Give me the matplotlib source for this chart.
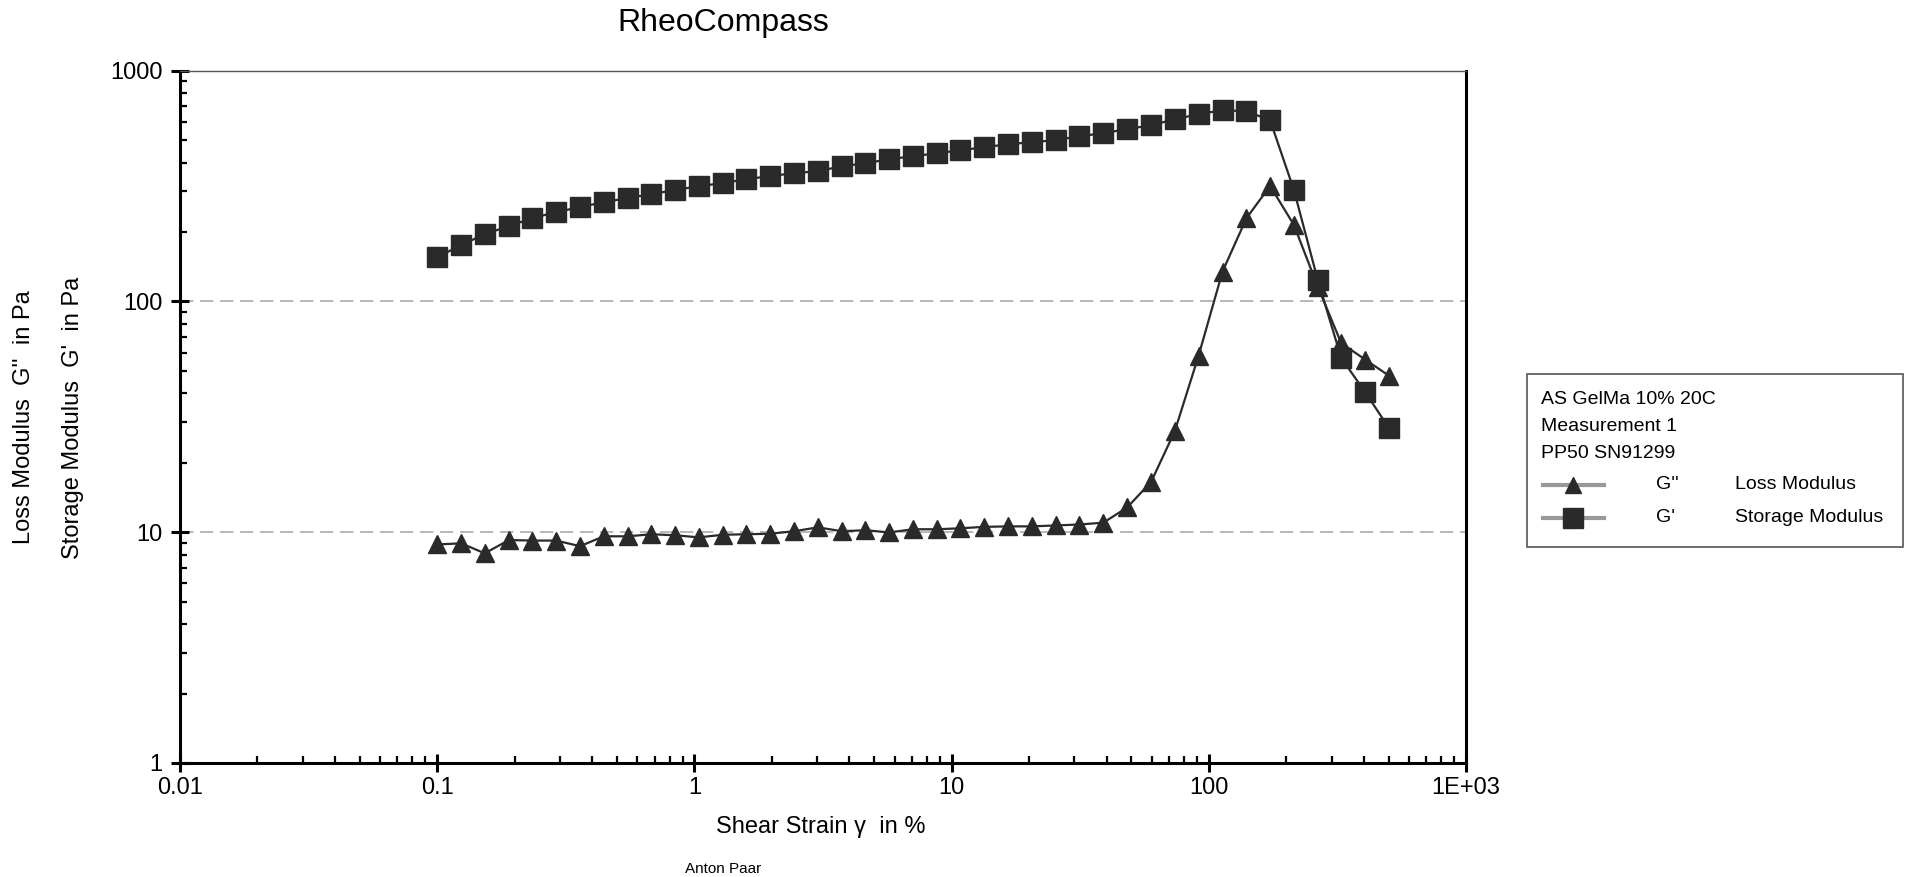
import matplotlib.pyplot as plt
from matplotlib.ticker import LogLocator, FixedLocator, FixedFormatter, NullFormatter
from matplotlib.lines import Line2D
from matplotlib.patches import Rectangle

plt.rcParams['font.family'] = ['Liberation Sans', 'DejaVu Sans']

# shear strain in %
strain = [0.1, 0.124, 0.153, 0.19, 0.234, 0.29, 0.359, 0.444, 0.55, 0.68,
          0.841, 1.04, 1.29, 1.59, 1.97, 2.44, 3.02, 3.74, 4.62, 5.72,
          7.08, 8.76, 10.8, 13.4, 16.6, 20.5, 25.4, 31.4, 38.9, 48.1,
          59.6, 73.7, 91.2, 113, 140, 173, 214, 265, 327, 405, 501]

# storage modulus G' in Pa
storage = [155.6, 175.5, 195.8, 212, 229.7, 243.8, 256.3, 269.4, 280.5, 291.9,
           303.8, 316, 325.6, 338.8, 349.2, 359.8, 366.8, 385.5, 397, 413.6,
           425.9, 438.8, 452, 466, 480, 490, 500, 520, 536, 558,
           580, 616, 648, 674, 667, 610, 304.6, 124, 56.9, 40.5, 28.3]

# loss modulus G'' in Pa
loss = [8.85, 8.95, 8.1, 9.25, 9.2, 9.2, 8.7, 9.6, 9.6, 9.8,
        9.7, 9.5, 9.75, 9.8, 9.85, 10.1, 10.5, 10.1, 10.2, 9.98,
        10.3, 10.3, 10.4, 10.55, 10.6, 10.6, 10.7, 10.8, 11.0, 12.8,
        16.5, 27.4, 58.2, 134.8, 229.6, 316.6, 214.8, 116, 66, 56, 47.7]

x_ticks = [0.01, 0.1, 1, 10, 100, 1000]
x_labels = ['0.01', '0.1', '1', '10', '100', '1E+03']
y_ticks = [1, 10, 100, 1000]
y_labels = ['1', '10', '100', '1000']

legend_info = ['AS GelMa 10% 20C', 'Measurement 1', 'PP50 SN91299']
series_symbols = ["G''", "G'"]
series_names = ['Loss Modulus', 'Storage Modulus']

dark = '#2a2a2a'

fig = plt.figure(figsize=(19.05, 8.77), dpi=100)
ax = fig.add_axes([0.0945, 0.130, 0.6751, 0.7894])

ax.plot(strain, loss, color=dark, lw=1.6, marker='^', ms=13,
        mfc=dark, mec=dark, zorder=3)
ax.plot(strain, storage, color=dark, lw=1.6, marker='s', ms=15,
        mfc=dark, mec=dark, zorder=4)

ax.set_xscale('log')
ax.set_yscale('log')
ax.set_xlim(0.01, 1000)
ax.set_ylim(1, 1000)

ax.xaxis.set_major_locator(FixedLocator(x_ticks))
ax.xaxis.set_major_formatter(FixedFormatter(x_labels))
ax.yaxis.set_major_locator(FixedLocator(y_ticks))
ax.yaxis.set_major_formatter(FixedFormatter(y_labels))
ax.xaxis.set_minor_locator(LogLocator(base=10, subs=range(2, 10), numticks=20))
ax.yaxis.set_minor_locator(LogLocator(base=10, subs=range(2, 10), numticks=20))
ax.xaxis.set_minor_formatter(NullFormatter())
ax.yaxis.set_minor_formatter(NullFormatter())

ax.tick_params(which='major', direction='inout', length=13.5, width=2.2,
               labelsize=17, color='black')
ax.tick_params(axis='x', which='major', pad=3)
ax.tick_params(axis='y', which='major', pad=6)
ax.tick_params(which='minor', direction='in', length=5, width=1.6, color='black')

ax.grid(True, which='major', axis='y', color='#aaaaaa', lw=1.2,
        linestyle=(0, (8, 4)))
ax.set_axisbelow(True)

for side in ['left', 'bottom', 'right']:
    ax.spines[side].set_linewidth(2.2)
    ax.spines[side].set_color('black')
ax.spines['top'].set_linewidth(1.0)
ax.spines['top'].set_color('#555555')

# titles and labels
fig.text(0.3795, 0.974, 'RheoCompass', fontsize=23, ha='center', va='center')
fig.text(0.431, 0.057, 'Shear Strain γ  in %', fontsize=17, ha='center', va='center')
fig.text(0.3795, 0.009, 'Anton Paar', fontsize=11, ha='center', va='center')
fig.text(0.0125, 0.524, "Loss Modulus  G''  in Pa", fontsize=17, rotation=90,
         ha='center', va='center')
fig.text(0.0385, 0.524, "Storage Modulus  G'  in Pa", fontsize=17, rotation=90,
         ha='center', va='center')

# legend box
lax = fig.add_axes([0.801, 0.375, 0.1985, 0.2])
lax.set_xlim(0, 1)
lax.set_ylim(0, 1)
lax.axis('off')
lax.add_patch(Rectangle((0.002, 0.005), 0.994, 0.99, fill=False,
                        edgecolor='#555555', lw=1.2))
for i, txt in enumerate(legend_info):
    lax.text(0.04, 0.846 - i * 0.152, txt, fontsize=14, va='center', ha='left')
markers = ['^', 's']
sizes = [11, 14]
for i in range(2):
    yy = 0.36 - i * 0.186
    lax.add_line(Line2D([0.045, 0.206], [yy, yy], color='#999999', lw=3))
    lax.add_line(Line2D([0.125], [yy], marker=markers[i], ms=sizes[i],
                        color=dark, mfc=dark, mec=dark))
    lax.text(0.344, yy, series_symbols[i], fontsize=14, va='center', ha='left')
    lax.text(0.553, yy, series_names[i], fontsize=14, va='center', ha='left')

fig.savefig('out.png', dpi=100)
